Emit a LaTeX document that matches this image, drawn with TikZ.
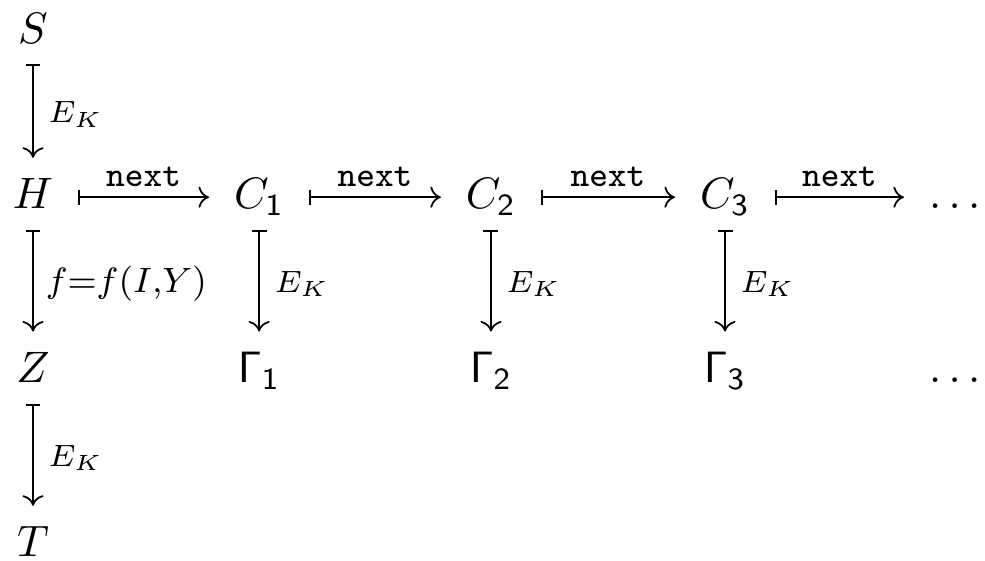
\documentclass[tikz,border=0pt]{standalone}
\usepackage{amsmath,amssymb}
\usepackage{tikz}
\usetikzlibrary{arrows.meta,positioning}
\DeclareMathSizes{7}{7}{4}{3}
\tikzset{
  obj/.style={anchor=base, inner xsep=5.5pt, inner ysep=3.1pt,
              text height=6.83pt, text depth=1.5pt},
  mapsto/.style={{Bar[width=3.4pt]}-{To[length=2.4pt,width=4.8pt]}},
  vmap/.style={mapsto, shorten >=1.5pt},
  lbl/.style={font=\scriptsize, inner sep=3.3pt},
  flbl/.style={font=\footnotesize, inner sep=2.7pt},
  nxt/.style={font=\footnotesize\ttfamily, inner sep=2.3pt},
}

\begin{document}
\begin{tikzpicture}
  \useasboundingbox (0,0) rectangle (223.9pt,127.3pt);
  \node[obj] (S) at (7.5pt,117.5pt) {$S$};
  \node[obj] (H) at (7.5pt,79.8pt) {$H$};
  \node[obj] (Z) at (7.5pt,40.3pt) {$Z$};
  \node[obj] (T) at (7.5pt,0.7pt) {$T$};
  \foreach \i/\x in {1/58.9,2/111.6,3/164.8} {
    \node[obj] (C\i) at (\x pt,79.8pt) {$C_{\mathsf{\i}}$};
    \node[obj] (G\i) at (\x pt,40.3pt) {$\mathsf{\Gamma}_{\mathsf{\i}}$};
    \draw[vmap] (C\i) -- node[lbl, right] (e\i) {$E_K$} (G\i);
  }
  \node[obj] (Cd) at (217pt,79.8pt) {$\ldots$};
  \node[obj] (Gd) at (217pt,40.3pt) {$\ldots$};
  \draw[vmap] (S) -- node[lbl, right] (eS) {$E_K$} (H);
  \draw[vmap] (H) -- node[flbl, right] (fH) {$f{=}f(I{,}Y)$} (Z);
  \draw[vmap] (Z) -- node[lbl, right] (eZ) {$E_K$} (T);
  \draw[mapsto] (H) -- node[nxt, above] (n0) {next} (C1);
  \draw[mapsto] (C1) -- node[nxt, above] (n1) {next} (C2);
  \draw[mapsto] (C2) -- node[nxt, above] (n2) {next} (C3);
  \draw[mapsto] (C3) -- node[nxt, above] (n3) {next} (Cd);
\end{tikzpicture}
\end{document}
